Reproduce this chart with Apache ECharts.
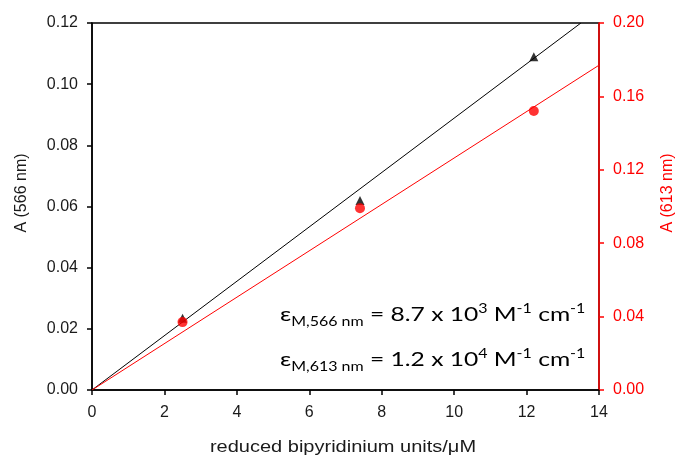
<!DOCTYPE html>
<html><head><meta charset="utf-8">
<script src="https://cdn.jsdelivr.net/npm/echarts@6/dist/echarts.min.js"></script>
<style>html,body{margin:0;padding:0;background:#fff}#c{width:680px;height:458px}</style>
</head><body><div id="c"></div>
<script>
const xConc = [2.5, 7.4, 12.2];
const a566 = [0.0235, 0.062, 0.109];
const a613 = [0.037, 0.099, 0.152];
const fit566 = [[0, 0], [13.5, 0.12]];
const fit613 = [[0, 0], [14, 0.177]];
const xTitle = 'reduced bipyridinium units/\u03bcM';
const yLeftTitle = 'A (566 nm)';
const yRightTitle = 'A (613 nm)';

const chart = echarts.init(document.getElementById('c'));
const F = 'Liberation Sans, Arial, sans-serif';
const AF = 'Lato, Carlito, sans-serif';
function richFor(color){
  return {
    e:{fontFamily:AF,fontSize:20,color:color,lineHeight:26,verticalAlign:'middle'},
    s:{fontFamily:AF,fontSize:13,color:color,lineHeight:13,verticalAlign:'bottom'},
    m:{fontFamily:AF,fontSize:20,color:color,lineHeight:26,verticalAlign:'middle'},
    p:{fontFamily:AF,fontSize:13,color:color,lineHeight:13,verticalAlign:'top'}
  };
}
chart.setOption({
  animation:false,
  grid:{left:92,right:81,top:23,bottom:68,show:true,borderColor:'#000',borderWidth:1.5,backgroundColor:'transparent'},
  xAxis:{type:'value',min:0,max:14,interval:2,
    axisLine:{show:true,lineStyle:{color:'#000',width:1.5}},
    axisTick:{show:true,length:5,lineStyle:{color:'#000',width:1.5}},
    axisLabel:{color:'#1a1a1a',fontFamily:F,fontSize:16,margin:15},
    splitLine:{show:false}},
  yAxis:[
    {type:'value',min:0,max:0.12,interval:0.02,position:'left',
     axisLine:{show:true,lineStyle:{color:'#000',width:1.5}},
     axisTick:{show:true,length:5,lineStyle:{color:'#000',width:1.5}},
     axisLabel:{color:'#1a1a1a',fontFamily:F,fontSize:16,margin:14,formatter:v=>v.toFixed(2)},
     splitLine:{show:false}},
    {type:'value',min:0,max:0.2,interval:0.04,position:'right',
     axisLine:{show:true,lineStyle:{color:'#ff0000',width:1.5}},
     axisTick:{show:true,length:5,lineStyle:{color:'#ff0000',width:1.5}},
     axisLabel:{color:'#ff0000',fontFamily:F,fontSize:16,margin:14,formatter:v=>v.toFixed(2)},
     splitLine:{show:false}}
  ],
  series:[
    {type:'line',data:fit566,yAxisIndex:0,symbol:'none',lineStyle:{color:'#000',width:1},z:2},
    {type:'line',data:fit613,yAxisIndex:1,symbol:'none',lineStyle:{color:'#ff0000',width:1},z:2},
    {type:'scatter',data:xConc.map((x,i)=>[x,a566[i]]),yAxisIndex:0,symbol:'triangle',symbolSize:9,itemStyle:{color:'#000'},z:3},
    {type:'scatter',data:xConc.map((x,i)=>[x,a613[i]]),yAxisIndex:1,symbol:'circle',symbolSize:10,itemStyle:{color:'#ff0000'},z:4}
  ],
  graphic:[
    {type:'text',x:343,y:448,scaleX:1.25,style:{text:xTitle,x:0,y:0,align:'center',verticalAlign:'middle',fontSize:16,fontFamily:F,fill:'#1a1a1a'}},
    {type:'text',rotation:Math.PI/2,x:22,y:193,style:{text:yLeftTitle,x:0,y:0,align:'center',verticalAlign:'middle',fontSize:16,fontFamily:F,fill:'#1a1a1a'}},
    {type:'text',rotation:Math.PI/2,x:668,y:193,style:{text:yRightTitle,x:0,y:0,align:'center',verticalAlign:'middle',fontSize:16,fontFamily:F,fill:'#ff0000'}},
    {type:'text',x:280,y:302,scaleX:1.23,style:{x:0,y:0,text:'{e|\u03b5}{s|M,566 nm}{m| = 8.7 x 10}{p|3}{m| M}{p|-1}{m| cm}{p|-1}',rich:richFor('#1a1a1a')}},
    {type:'text',x:280,y:347,scaleX:1.23,style:{x:0,y:0,text:'{e|\u03b5}{s|M,613 nm}{m| = 1.2 x 10}{p|4}{m| M}{p|-1}{m| cm}{p|-1}',rich:richFor('#ff0000')}}
  ]
});
</script></body></html>
